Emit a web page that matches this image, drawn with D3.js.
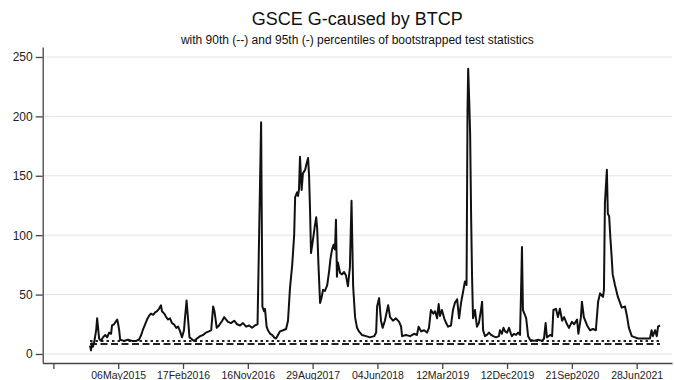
<!DOCTYPE html>
<html>
<head>
<meta charset="utf-8">
<script src="https://cdn.jsdelivr.net/npm/d3@7"></script>
<style>
  body { margin: 0; background: #fff; }
  svg { display: block; }
  text { font-family: "Liberation Sans", Arial, Helvetica, sans-serif; }
</style>
</head>
<body>
<svg id="chart" width="674" height="380"></svg>
<script>
// Observation number (trading days) and rolling test statistic
const obs = [
  113,116,119,122,126,132,135,138,141,147,
  153,160,166,172,178,181,187,192,197,200,
  203,206,218,230,243,255,264,271,277,283,
  289,295,301,308,314,320,326,332,335,342,
  348,354,360,366,372,379,385,391,397,403,
  406,411,416,420,425,434,443,453,462,471,
  480,487,493,497,504,511,521,527,533,539,
  548,558,567,576,585,595,604,613,622,630,
  635,641,645,650,653,658,662,669,675,681,
  687,693,699,709,718,724,730,737,743,746,
  752,755,758,761,766,770,777,781,786,789,
  792,795,801,807,811,814,818,823,828,832,
  838,845,851,855,860,865,869,872,875,878,
  885,891,897,903,909,915,920,925,931,937,
  943,952,965,977,990,996,999,1005,1011,1016,
  1023,1033,1039,1048,1057,1067,1073,1076,1088,1101,
  1113,1122,1127,1135,1144,1153,1159,1165,1172,1178,
  1184,1189,1193,1199,1206,1212,1218,1227,1233,1239,
  1246,1252,1258,1264,1270,1275,1278,1280,1283,1286,
  1289,1292,1295,1301,1307,1313,1320,1323,1326,1332,
  1338,1344,1351,1357,1366,1375,1378,1384,1389,1394,
  1400,1406,1412,1415,1421,1428,1434,1440,1443,1446,
  1449,1455,1459,1465,1471,1483,1496,1508,1514,1519,
  1523,1533,1539,1543,1551,1557,1563,1570,1576,1585,
  1591,1600,1607,1616,1620,1628,1631,1637,1647,1656,
  1665,1674,1681,1687,1696,1699,1702,1708,1711,1715,
  1719,1722,1726,1733,1742,1754,1764,1770,1776,1785,
  1795,1804,1816,1829,1841,1846,1850,1857,1862,1866,
  1872
];
const stat = [
  7,3,9,6,10,20,30,22,13,11,
  14,16,14,18,17,24,25,27,29,25,
  20,12,11,12,11,11,12,16,21,25,
  29,32,34,33,35,36,38,41,36,34,
  31,29,30,26,25,22,23,19,14,20,
  30,45,28,14,13,11,13,15,16,18,
  19,20,40,36,22,24,28,31,29,27,
  26,28,25,24,26,23,24,22,24,25,
  102,195,40,36,38,23,20,17,16,14,
  13,16,19,20,21,28,55,75,100,132,
  136,133,139,166,138,152,155,160,165,150,
  121,85,96,108,115,106,75,43,48,54,
  53,58,70,80,88,92,88,113,65,77,
  68,67,69,66,57,73,129,57,31,22,
  19,16,15,14,15,18,40,47,28,22,
  28,41,31,28,30,27,23,15,16,15,
  17,16,23,19,20,18,22,37,34,36,
  30,42,32,37,30,26,23,24,37,43,
  46,30,43,52,61,58,205,240,215,186,
  118,65,30,37,23,26,38,44,20,15,
  16,18,16,15,14,15,20,17,22,19,
  18,22,17,15,17,16,18,16,50,90,
  37,33,30,15,12,11,12,11,13,26,
  14,16,15,37,38,31,38,28,31,25,
  22,27,25,29,17,31,44,31,24,20,
  21,20,44,51,48,54,127,155,118,116,
  97,85,67,58,48,39,40,32,22,15,
  14,13,13,13,13,20,15,20,15,23,
  24
];

// Bootstrapped critical values
const pct95 = 10.9;
const pct90 = 8.4;

// Axis ticks
const yTicks = [0, 50, 100, 150, 200, 250];
const xTickObs = [0, 200, 400, 600, 800, 1000, 1200, 1400, 1600, 1800];
const xTickLabels = ["", "06May2015", "17Feb2016", "16Nov2016", "29Aug2017",
                     "04Jun2018", "12Mar2019", "12Dec2019", "21Sep2020", "28Jun2021"];

const svg = d3.select("#chart");
const plotL = 42.7, plotR = 672, plotT = 47, plotB = 363;

const x = d3.scaleLinear().domain([-33, 1909]).range([plotL, plotR]);
const y = d3.scaleLinear().domain([-7.6, 258.4]).range([plotB, plotT]);

// Titles
svg.append("text")
  .attr("x", (plotL + plotR) / 2).attr("y", 25)
  .attr("text-anchor", "middle")
  .attr("font-size", 18).attr("fill", "#111")
  .text("GSCE G-caused by BTCP");
svg.append("text")
  .attr("x", (plotL + plotR) / 2).attr("y", 44)
  .attr("text-anchor", "middle")
  .attr("font-size", 12).attr("fill", "#111")
  .text("with 90th (--) and 95th (-) percentiles of bootstrapped test statistics");

// Horizontal grid
svg.append("g").selectAll("line").data(yTicks).join("line")
  .attr("x1", plotL + 1).attr("x2", plotR)
  .attr("y1", d => y(d)).attr("y2", d => y(d))
  .attr("stroke", "#e4e4e4").attr("stroke-width", 1);

// Axes
const yAxis = svg.append("g")
  .attr("transform", `translate(${plotL},0)`)
  .call(d3.axisLeft(y).tickValues(yTicks).tickSize(7).tickSizeOuter(0).tickPadding(3));
const xAxis = svg.append("g")
  .attr("transform", `translate(0,${plotB})`)
  .call(d3.axisBottom(x).tickValues(xTickObs)
        .tickFormat((d, i) => xTickLabels[i])
        .tickSize(6).tickSizeOuter(0).tickPadding(3));
[yAxis, xAxis].forEach(g => {
  g.select(".domain").attr("stroke", "#444").attr("stroke-width", 1.3);
  g.selectAll(".tick line").attr("stroke", "#444").attr("stroke-width", 1.3);
  g.selectAll(".tick text").attr("fill", "#222")
    .style("font-family", "'Liberation Sans', Arial, Helvetica, sans-serif");
});
yAxis.selectAll(".tick text").attr("font-size", 12);
xAxis.selectAll(".tick text").attr("font-size", 10.5);

// Percentile reference lines
const xFirst = obs[0], xLast = obs[obs.length - 1];
svg.append("line")
  .attr("x1", x(xFirst)).attr("x2", x(xLast))
  .attr("y1", y(pct95)).attr("y2", y(pct95))
  .attr("stroke", "#222").attr("stroke-width", 2)
  .attr("stroke-dasharray", "2.5,3");
svg.append("line")
  .attr("x1", x(xFirst)).attr("x2", x(xLast))
  .attr("y1", y(pct90)).attr("y2", y(pct90))
  .attr("stroke", "#222").attr("stroke-width", 2)
  .attr("stroke-dasharray", "7,3.5");

// Test statistic series
const series = obs.map((o, i) => [o, stat[i]]);
svg.append("path")
  .datum(series)
  .attr("fill", "none")
  .attr("stroke", "#111")
  .attr("stroke-width", 2)
  .attr("stroke-linejoin", "round")
  .attr("d", d3.line().x(d => x(d[0])).y(d => y(d[1])));
</script>
</body>
</html>
